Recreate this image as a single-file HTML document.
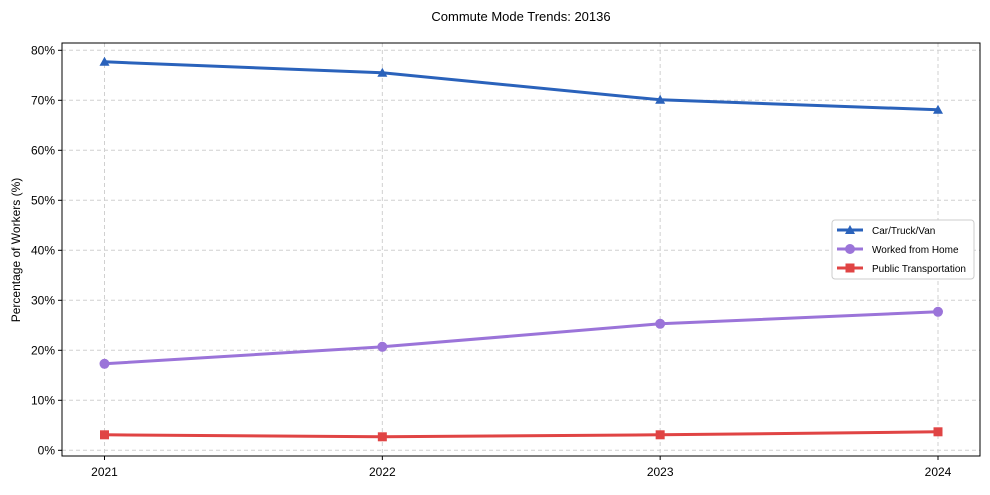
<!DOCTYPE html>
<html><head><meta charset="utf-8"><style>
body{margin:0;background:#fff;font-family:"Liberation Sans",Arial,sans-serif;}
svg text{font-family:"Liberation Sans",Arial,sans-serif;fill:#000;}
</style></head><body>
<svg id="chart" width="990" height="490" xmlns="http://www.w3.org/2000/svg">
<rect width="990" height="490" fill="#fff"/>
<text x="521" y="21" font-size="13" text-anchor="middle">Commute Mode Trends: 20136</text>
<text transform="translate(20,250) rotate(-90)" font-size="12" text-anchor="middle">Percentage of Workers (%)</text>
<g id="grid"></g><g id="axes"></g><g id="series"></g>
<rect x="62" y="43" width="918" height="413" fill="none" stroke="#000" stroke-width="1"/>
<g id="legend"></g>
</svg>
<script>
const years=["2021","2022","2023","2024"];
const carVals=[77.7,75.5,70.1,68.1];
const wfhVals=[17.3,20.7,25.3,27.7];
const ptVals=[3.1,2.7,3.1,3.7];
const yTicks=[0,10,20,30,40,50,60,70,80];
const NS="http://www.w3.org/2000/svg";
function xs(i){return 104.5+i*(938-104.5)/(years.length-1);}
function ys(v){return 450.3-v*5.0;}
function mk(t,a,p){const e=document.createElementNS(NS,t);for(const k in a)e.setAttribute(k,a[k]);p.appendChild(e);return e;}
const grid=document.getElementById('grid'),axes=document.getElementById('axes'),ser=document.getElementById('series'),leg=document.getElementById('legend');
yTicks.forEach(v=>{const y=ys(v);
 const g=mk('line',{x1:62,x2:980,y1:y,y2:y,stroke:'#d0d0d0','stroke-dasharray':'4,3'},grid);
 
 mk('line',{x1:58,x2:62,y1:y,y2:y,stroke:'#000'},axes);
 const t=mk('text',{x:55,y:y+4,'font-size':12,'text-anchor':'end'},axes);t.textContent=v+'%';
 });
years.forEach((yr,i)=>{const x=xs(i);
 const g=mk('line',{x1:x,x2:x,y1:43,y2:456,stroke:'#d0d0d0','stroke-dasharray':'4,3'},grid);
 
 mk('line',{x1:x,x2:x,y1:456,y2:460,stroke:'#000'},axes);
 const t=mk('text',{x:x,y:476,'font-size':12,'text-anchor':'middle'},axes);t.textContent=yr;
 });
function marker(type,x,y,c,p){
 if(type==='tri')return mk('polygon',{points:`${x},${y-5} ${x-5},${y+4} ${x+5},${y+4}`,fill:c},p);
 if(type==='circ')return mk('circle',{cx:x,cy:y,r:5,fill:c},p);
 return mk('rect',{x:x-4.5,y:y-4.5,width:9,height:9,fill:c},p);}
const series=[{n:'Car/Truck/Van',v:carVals,c:'#2a62bb',m:'tri',id:'car'},{n:'Worked from Home',v:wfhVals,c:'#9b74d9',m:'circ',id:'wfh'},{n:'Public Transportation',v:ptVals,c:'#e04444',m:'sq',id:'pt'}];
series.forEach(s=>{
 const l=mk('polyline',{points:s.v.map((v,i)=>xs(i)+','+ys(v)).join(' '),fill:'none',stroke:s.c,'stroke-width':3},ser);
 
 s.v.forEach((v,i)=>{const m=marker(s.m,xs(i),ys(v),s.c,ser);
  });});
mk('rect',{x:832,y:220,width:142,height:59,rx:3,fill:'#fff',stroke:'#ccc'},leg);
series.forEach((s,i)=>{const y=230+i*19;const g=mk('g',{},leg);
 
 mk('line',{x1:837,x2:863,y1:y,y2:y,stroke:s.c,'stroke-width':3},g);
 marker(s.m,850,y,s.c,g);
 const t=mk('text',{x:872,y:y+4,'font-size':10},g);t.textContent=s.n;});
</script>
</body></html>
